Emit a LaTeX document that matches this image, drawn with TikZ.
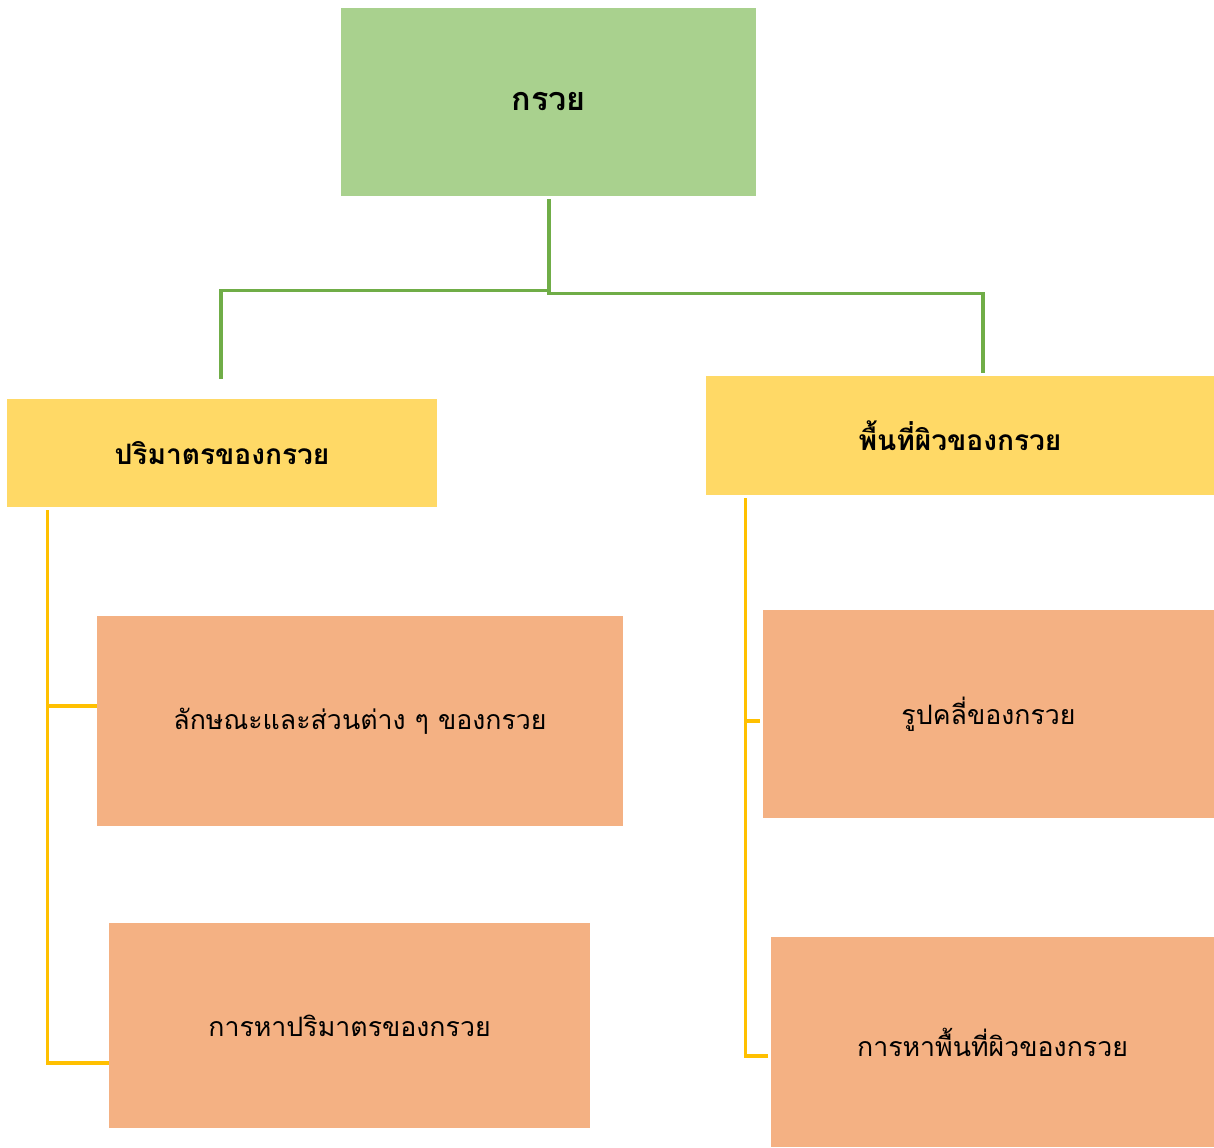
\documentclass[tikz,border=0pt]{standalone}
\usepackage{fontspec}
\setmainfont[Script=Thai]{Loma}
\usepackage{tikz}
\usetikzlibrary{positioning, calc}
\definecolor{rootgreen}{HTML}{A9D18E}
\definecolor{linegreen}{HTML}{70AD47}
\definecolor{headyellow}{HTML}{FFD966}
\definecolor{lineyellow}{HTML}{FFC000}
\definecolor{leaforange}{HTML}{F4B183}

\begin{document}
\begin{tikzpicture}[x=0.025cm,y=-0.025cm,
        every node/.style={inner sep=0pt,font=\fontsize{19}{23}\selectfont},
        root node/.style={fill=rootgreen,font=\fontsize{23}{27}\selectfont\bfseries},
        head node/.style={fill=headyellow,font=\fontsize{20}{24}\selectfont\bfseries},
        leaf node/.style={fill=leaforange},
        trunk/.style={draw=linegreen,line width=2.2pt},
        branch/.style={draw=lineyellow,line width=2.2pt}]
    \useasboundingbox (0,0) rectangle (1214,1147);
    \node[root node, minimum width=10.375cm, minimum height=4.7cm] (root) at (548.5,102) {กรวย};
    \node[head node, minimum width=10.75cm, minimum height=2.7cm] (vol) at (222,453) {ปริมาตรของกรวย};
    \node[head node, minimum width=12.7cm, minimum height=2.975cm] (surf) at (960,435.5) {พื้นที่ผิวของกรวย};
    \node[leaf node, minimum width=13.15cm, minimum height=5.25cm] (parts) at (360,721) {ลักษณะและส่วนต่าง ๆ ของกรวย};
    \node[leaf node, minimum width=12.025cm, minimum height=5.125cm] (calcvol) at (349.5,1025.5) {การหาปริมาตรของกรวย};
    \node[leaf node, minimum width=11.275cm, minimum height=5.2cm] (net) at (988.5,714) {รูปคลี่ของกรวย};
    \node[leaf node, minimum width=11.075cm, minimum height=5.25cm] (calcsurf) at (992.5,1042) {การหาพื้นที่ผิวของกรวย};
  % green trunk
  \draw[trunk] ($(root.south)+(0.5,3)$) -- ++(0,91) -| ($(vol.north)+(-1,-20)$);
  \draw[trunk] ($(root.south)+(0.5,3)$) -- ++(0,94) -| ($(surf.north)+(23,-3)$);
  % yellow branches
  \draw[branch] ($(vol.south west)+(41,3)$) |- ($(parts.west)+(0,-15)$);
  \draw[branch] ($(vol.south west)+(41,3)$) |- ($(calcvol.west)+(0,37.5)$);
  \draw[branch] ($(surf.south west)+(40,3)$) |- ($(net.west)+(-3,7)$);
  \draw[branch] ($(surf.south west)+(40,3)$) |- ($(calcsurf.west)+(-3,14)$);
\end{tikzpicture}
\end{document}
